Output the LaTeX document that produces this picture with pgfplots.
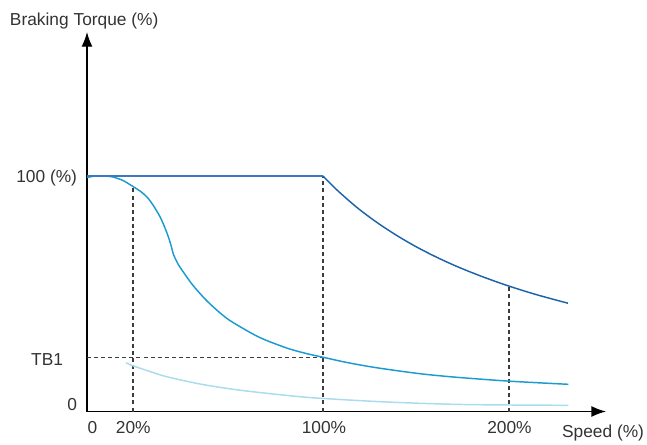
\documentclass[border=0pt]{standalone}
\usepackage{pgfplots}
\pgfplotsset{compat=1.18}
\usepackage{fontspec}
\setmainfont{Liberation Sans}
\usetikzlibrary{arrows.meta}
\definecolor{topblue}{HTML}{1E64AA}
\definecolor{flatblue}{HTML}{3A7BBE}
\definecolor{midblue}{HTML}{1B9BD1}
\definecolor{lowblue}{HTML}{A9DCEC}
\definecolor{txt}{HTML}{333333}
\definecolor{guidegray}{HTML}{3C3C3C}
\tikzset{lbl/.style={font=\fontsize{13}{15}\selectfont, text=txt, inner sep=0pt, outer sep=0pt}}
\begin{document}
\begin{tikzpicture}
\begin{axis}[
  x=0.75pt, y=0.75pt,
  xmin=0, xmax=519, ymin=0, ymax=379.5,
  axis lines=left,
  axis line style={line width=1pt, black, -{Latex[length=11pt,width=8.25pt]}},
  xtick=\empty, ytick=\empty,
  clip=false,
]
% dashed guides
\addplot[guidegray, line width=1pt, dash pattern=on 3pt off 2.3pt] coordinates {(46,0) (46,224.8)};
\addplot[guidegray, line width=1pt, dash pattern=on 3pt off 2.3pt] coordinates {(236,0) (236,235.5)};
\addplot[guidegray, line width=1pt, dash pattern=on 3pt off 2.3pt] coordinates {(422,0) (422,125.5)};
\addplot[guidegray, line width=1pt, dash pattern=on 3pt off 2.3pt] coordinates {(0,54) (236,54)};
% bottom curve
\addplot[lowblue, line width=1.1pt, smooth] coordinates {
(39,48.8)(45.7,45.8)(63,40)(79.7,34.8)(113,27.5)(146.3,22.2)(179.7,18.2)(213,14.8)(236.3,13)(299.7,9.5)(366.3,7.2)(423,6.5)(481.3,6.2)};
% middle curve
\addplot[midblue, line width=1.1pt, smooth, tension=0.5] coordinates {
(0,234)(6,235.2)(13,235.7)(20,235.3)(26,234.5)(36,231)(46.3,224.8)(53,220.5)(59.7,214.8)(66,206.5)(73,194.8)(78,183.5)(81.3,174.8)(84.5,164.5)(86.3,157.5)(91,147.5)(96.3,139.5)(103,130)(109.7,121.7)(119,111.5)(129.7,101.5)(140,93)(149.7,86.8)(165,78)(176.3,72.4)(190,67)(203,62.4)(220,57.8)(236.3,54.2)(260,49)(290,43.7)(333,37.8)(370,34.2)(423,30.3)(481.3,27.2)};
% top curve
\addplot[flatblue, line width=1.1pt] coordinates {(0,235.5)(236,235.5)};
\addplot[topblue, line width=1.1pt, smooth] coordinates {
(236,235.5)(250,221.5)(270,204.0)(290,189.0)(310,175.9)(330,164.3)(350,154.1)(370,145.0)(390,136.9)(410,129.5)(430,122.8)(450,116.7)(470,111.2)(481,108.3)};
% labels
\node[lbl, anchor=base west] at (axis cs:-77,385.5) {Braking Torque (\%)};
\node[lbl, anchor=base east] at (axis cs:557,-25.5) {Speed (\%)};
\node[lbl, anchor=base east] at (axis cs:-10,229.5) {100 (\%)};
\node[lbl, anchor=base east] at (axis cs:-24,46.5) {TB1};
\node[lbl, anchor=base east] at (axis cs:-10,1.5) {0};
\node[lbl, anchor=base] at (axis cs:5.5,-21.8) {0};
\node[lbl, anchor=base] at (axis cs:46.3,-21.8) {20\%};
\node[lbl, anchor=base] at (axis cs:237,-21.8) {100\%};
\node[lbl, anchor=base] at (axis cs:422.5,-21.8) {200\%};
\end{axis}
\pgfresetboundingbox
\path (-65.25pt,-24.375pt) rectangle (420pt,308.625pt);
\end{tikzpicture}
\end{document}
